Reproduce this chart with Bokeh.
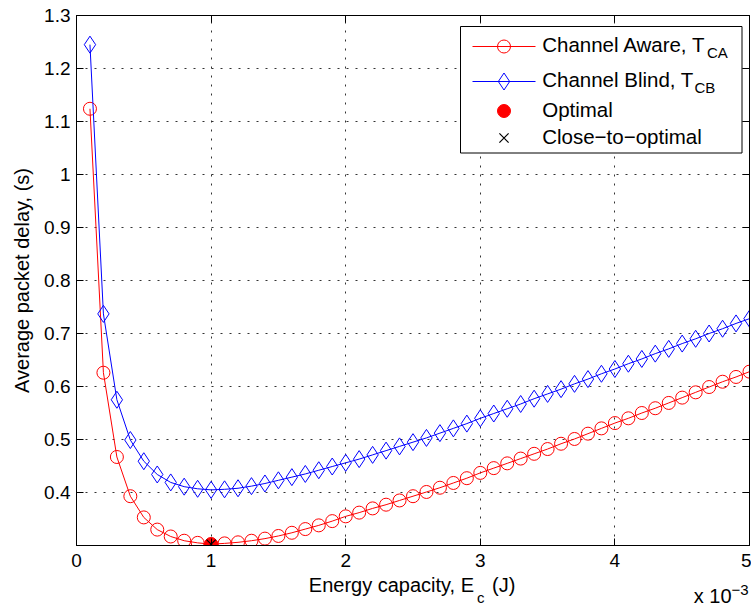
from bokeh.plotting import figure
from bokeh.layouts import column
from bokeh.models import Range1d, LinearAxis, FixedTicker, Label
from bokeh.embed import file_html
from bokeh.resources import INLINE

# Energy capacity in units of 1e-3 J
energy = [0.1, 0.2, 0.3, 0.4, 0.5, 0.6, 0.7, 0.8, 0.9, 1.0,
          1.1, 1.2, 1.3, 1.4, 1.5, 1.6, 1.7, 1.8, 1.9, 2.0,
          2.1, 2.2, 2.3, 2.4, 2.5, 2.6, 2.7, 2.8, 2.9, 3.0,
          3.1, 3.2, 3.3, 3.4, 3.5, 3.6, 3.7, 3.8, 3.9, 4.0,
          4.1, 4.2, 4.3, 4.4, 4.5, 4.6, 4.7, 4.8, 4.9, 5.0]

# Average packet delay (s), channel-aware policy T_CA
delay_aware = [1.124, 0.626, 0.467, 0.393, 0.353, 0.330, 0.317, 0.309, 0.305, 0.3025,
               0.304, 0.306, 0.309, 0.313, 0.318, 0.324, 0.331, 0.338, 0.346, 0.355,
               0.362, 0.370, 0.377, 0.385, 0.393, 0.401, 0.409, 0.418, 0.427, 0.437,
               0.446, 0.455, 0.464, 0.473, 0.482, 0.492, 0.501, 0.511, 0.521, 0.531,
               0.540, 0.550, 0.559, 0.569, 0.579, 0.589, 0.599, 0.609, 0.618, 0.628]

# Average packet delay (s), channel-blind policy T_CB
delay_blind = [1.245, 0.737, 0.575, 0.499, 0.459, 0.434, 0.419, 0.411, 0.407, 0.405,
               0.406, 0.408, 0.412, 0.417, 0.423, 0.429, 0.435, 0.442, 0.449, 0.456,
               0.463, 0.471, 0.479, 0.487, 0.495, 0.503, 0.512, 0.521, 0.530, 0.540,
               0.549, 0.558, 0.567, 0.577, 0.586, 0.595, 0.605, 0.614, 0.624, 0.633,
               0.643, 0.652, 0.662, 0.671, 0.681, 0.690, 0.700, 0.709, 0.719, 0.728]

optimal_energy = [1.0]
optimal_delay = [0.3025]
close_energy = [1.0]
close_delay = [0.3025]

x_ticks = [0, 1, 2, 3, 4, 5]
x_tick_labels = ["0", "1", "2", "3", "4", "5"]
y_ticks = [0.4, 0.5, 0.6, 0.7, 0.8, 0.9, 1.0, 1.1, 1.2, 1.3]
y_tick_labels = ["0.4", "0.5", "0.6", "0.7", "0.8", "0.9", "1", "1.1", "1.2", "1.3"]

FONT = "Liberation Sans"

# page layout (pixels)
W = 751
FL, FR, FT = 76, 2, 15
FW, FH = W - FL - FR, 530
MAIN_H = 575            # plot + tick labels
NOTE_H = 610 - MAIN_H   # strip holding the x-axis title
X0, X1 = 0.0, 5.0
Y0, Y1 = 0.3, 1.3
BASELINE_FIX = 0.43     # Label 'alphabetic' anchor correction, in em


def cx(px):
    """page column -> data x"""
    return X0 + (px - FL) / FW * (X1 - X0)


def cy(py):
    """page row -> data y"""
    return Y1 - (py - FT) / FH * (Y1 - Y0)


p = figure(width=W, height=MAIN_H, x_range=Range1d(X0, X1), y_range=Range1d(Y0, Y1),
           output_backend="svg", toolbar_location=None,
           min_border_left=FL, min_border_right=FR,
           min_border_top=FT, min_border_bottom=MAIN_H - FT - FH)
p.background_fill_color = "white"
p.border_fill_color = "white"
p.outline_line_color = "black"
p.outline_line_alpha = 1.0
p.outline_line_width = 1

for ax, ticks, labels, standoff in ((p.xaxis[0], x_ticks, x_tick_labels, 8),
                                    (p.yaxis[0], y_ticks, y_tick_labels, 6)):
    ax.ticker = FixedTicker(ticks=ticks)
    ax.major_label_overrides = {t: s for t, s in zip(ticks, labels)}
    ax.major_label_text_font = FONT
    ax.major_label_text_font_size = "19px"
    ax.major_label_text_color = "black"
    ax.major_label_standoff = standoff
    ax.major_tick_in = 7
    ax.major_tick_out = 0
    ax.major_tick_line_color = "black"
    ax.minor_tick_line_color = None
    ax.axis_line_color = "black"

p.yaxis.axis_label = "Average packet delay, (s)"
p.yaxis.axis_label_text_font = FONT
p.yaxis.axis_label_text_font_size = "20px"
p.yaxis.axis_label_text_font_style = "normal"
p.yaxis.axis_label_text_color = "black"
p.yaxis.axis_label_standoff = 8

# tick marks on the top and right edges of the box (no labels there)
for ticks, place in ((x_ticks, "above"), (y_ticks, "right")):
    ax = LinearAxis(ticker=FixedTicker(ticks=ticks),
                    major_label_overrides={t: "" for t in ticks},
                    major_label_text_font_size="1px", major_label_standoff=0,
                    major_tick_in=7, major_tick_out=0,
                    minor_tick_line_color=None, axis_line_color="black",
                    major_tick_line_color="black")
    p.add_layout(ax, place)

for g in (p.xgrid[0], p.ygrid[0]):
    g.grid_line_color = "#333333"
    g.grid_line_dash = "2 7"
    g.grid_line_width = 1

# curves
p.line(energy, delay_aware, line_color="red", line_width=1)
p.scatter(energy, delay_aware, marker="circle", size=13,
          fill_color=None, line_color="red", line_width=1)
p.line(energy, delay_blind, line_color="blue", line_width=1)
p.scatter(energy, delay_blind, marker="diamond", size=17,
          fill_color=None, line_color="blue", line_width=1)
p.scatter(optimal_energy, optimal_delay, marker="circle", size=13,
          fill_color="red", line_color="red")
p.scatter(close_energy, close_delay, marker="x", size=13,
          line_color="black", line_width=1.2)

# legend box
p.quad(left=cx(460), right=cx(741.5), top=cy(26), bottom=cy(152.5),
       fill_color="white", line_color="black", line_width=1)

rows = [46, 81, 110.5, 137.5]
sx0, sx1, sm = cx(472), cx(535), cx(503.5)
p.line([sx0, sx1], [cy(rows[0])] * 2, line_color="red", line_width=1)
p.scatter([sm], [cy(rows[0])], marker="circle", size=13, fill_color=None, line_color="red")
p.line([sx0, sx1], [cy(rows[1])] * 2, line_color="blue", line_width=1)
p.scatter([sm], [cy(rows[1])], marker="diamond", size=17, fill_color=None, line_color="blue")
p.scatter([sm], [cy(rows[2])], marker="circle", size=13, fill_color="red", line_color="red")
p.scatter([sm], [cy(rows[3])], marker="x", size=13, line_color="black", line_width=1.2)


def legend_text(px, baseline, s, size):
    anchor = baseline - BASELINE_FIX * size
    p.add_layout(Label(x=cx(px), y=cy(anchor), text=s, text_font=FONT,
                       text_font_size=f"{size}px", text_color="black",
                       text_align="left", text_baseline="alphabetic"))


tx = 541.7
legend_text(tx, rows[0] + 7, "Channel Aware, T", 20.5)
legend_text(706.5, rows[0] + 12.5, "CA", 15)
legend_text(tx, rows[1] + 7, "Channel Blind, T", 20.5)
legend_text(694, rows[1] + 12.5, "CB", 15)
legend_text(tx, rows[2] + 7, "Optimal", 20.5)
legend_text(tx, rows[3] + 7, "Close\u2212to\u2212optimal", 20.5)

# strip under the plot: x-axis title with subscript and the exponent note.
# The column aligns its frame with the plot above, so its x range spans the
# same page columns; y is reversed so it grows downward in page pixels.
q = figure(width=W, height=NOTE_H, x_range=Range1d(FL, W - FR),
           y_range=Range1d(610, MAIN_H), output_backend="svg", toolbar_location=None,
           x_axis_location=None, y_axis_location=None,
           min_border_left=FL, min_border_right=FR, min_border_top=0, min_border_bottom=0)
q.xgrid.visible = False
q.ygrid.visible = False
q.outline_line_color = None
q.background_fill_color = "white"
q.border_fill_color = "white"


def note_text(px, baseline, s, size):
    anchor = baseline - BASELINE_FIX * size
    q.add_layout(Label(x=px, y=anchor, text=s, text_font=FONT,
                       text_font_size=f"{size}px", text_color="black",
                       text_align="left", text_baseline="alphabetic"))


note_text(308.3, 593.5, "Energy capacity, E", 20)
note_text(476.5, 603, "c", 15)
note_text(491.5, 593.5, "(J)", 20)
note_text(693.3, 604.3, "x 10", 20)
note_text(731, 596, "\u22123", 15)

layout = column(p, q, spacing=0)
open("out.html", "w").write(file_html(layout, INLINE))
